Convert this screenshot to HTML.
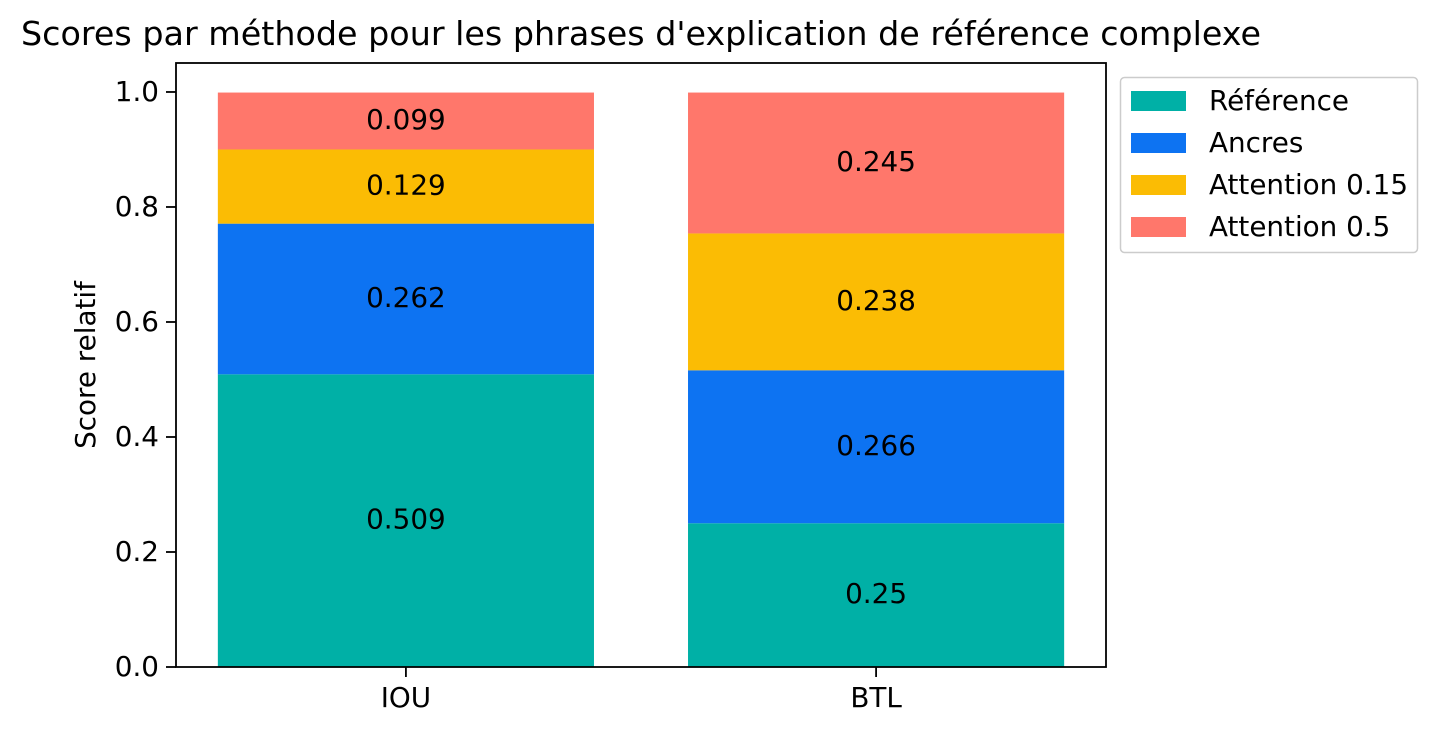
<!DOCTYPE html>
<html><head><meta charset="utf-8"><style>
body{margin:0;background:#fff;}
svg text{font-family:"DejaVu Sans","Liberation Sans",sans-serif;}
</style></head><body>
<svg id="chart" width="1438" height="735" xmlns="http://www.w3.org/2000/svg">
<rect width="1438" height="735" fill="#fff"/>
<text x="641" y="45" font-size="33" text-anchor="middle" textLength="1240" lengthAdjust="spacingAndGlyphs">Scores par méthode pour les phrases d'explication de référence complexe</text>
<g id="bars"></g>
<g id="axes"></g>
<g id="legend"></g>
</svg>
<script>
const categories = ["IOU", "BTL"];
const seriesNames = ["Référence", "Ancres", "Attention 0.15", "Attention 0.5"];
const seriesColors = ["#00b0a6", "#0d73f2", "#fbbc04", "#ff776b"];
const reference = [0.509, 0.25];
const ancres = [0.262, 0.266];
const attention015 = [0.129, 0.238];
const attention05 = [0.099, 0.245];
const yTicks = [0.0, 0.2, 0.4, 0.6, 0.8, 1.0];

const series = [reference, ancres, attention015, attention05];
const NS = "http://www.w3.org/2000/svg";
const L = 176, R = 1106, T = 63, B = 667;
const yMin = 0, yMax = 1.0504;
const xMin = -0.489, xMax = 1.489;
const yS = v => B - (v - yMin) / (yMax - yMin) * (B - T);
const xS = v => L + (v - xMin) / (xMax - xMin) * (R - L);
const bw = 0.8 * (R - L) / (xMax - xMin);
const FS = 27.8;
function mk(tag, attrs, parent) { const e = document.createElementNS(NS, tag); for (const k in attrs) e.setAttribute(k, attrs[k]); parent.appendChild(e); return e; }

const gb = document.getElementById("bars");
categories.forEach((c, i) => {
  let base = 0;
  series.forEach((s, j) => {
    const v = s[i];
    const r = mk("rect", { x: xS(i) - bw / 2, y: yS(base + v), width: bw, height: yS(base) - yS(base + v), fill: seriesColors[j] }, gb);
    
    
    const t = mk("text", { x: xS(i), y: yS(base + v / 2) + 8, "font-size": FS, "text-anchor": "middle" }, gb);
    t.textContent = String(v);
    
    
    base += v;
  });
});

const ga = document.getElementById("axes");
const frame = mk("rect", { x: L, y: T, width: R - L, height: B - T, fill: "none", stroke: "#000", "stroke-width": 1.8 }, ga);


yTicks.forEach(v => {
  mk("line", { x1: L - 10, x2: L, y1: yS(v), y2: yS(v), stroke: "#000", "stroke-width": 1.8 }, ga);
  const t = mk("text", { x: L - 17, y: yS(v) + 9, "font-size": FS, "text-anchor": "end" }, ga);
  t.textContent = v.toFixed(1);
  
  
});
categories.forEach((c, i) => {
  mk("line", { x1: xS(i), x2: xS(i), y1: B, y2: B + 10, stroke: "#000", "stroke-width": 1.8 }, ga);
  const t = mk("text", { x: xS(i), y: B + 40, "font-size": FS, "text-anchor": "middle" }, ga);
  t.textContent = c;
  
  
});
const yl = mk("text", { x: 95, y: (T + B) / 2, "font-size": FS, "text-anchor": "middle", transform: "rotate(-90 95 " + ((T + B) / 2) + ")" }, ga);
yl.textContent = "Score relatif";



const gl = document.getElementById("legend");
const lb = mk("rect", { x: 1120.5, y: 77.5, width: 297, height: 175, rx: 4, fill: "#fff", stroke: "#ccc", "stroke-width": 1.5 }, gl);


seriesNames.forEach((n, j) => {
  const y = 101 + j * 42;
  const p = mk("rect", { x: 1131, y: y - 10, width: 55, height: 20, fill: seriesColors[j] }, gl);
  
  
  const t = mk("text", { x: 1209, y: y + 9, "font-size": FS }, gl);
  t.textContent = n;
  
  
});
</script>
</body></html>
